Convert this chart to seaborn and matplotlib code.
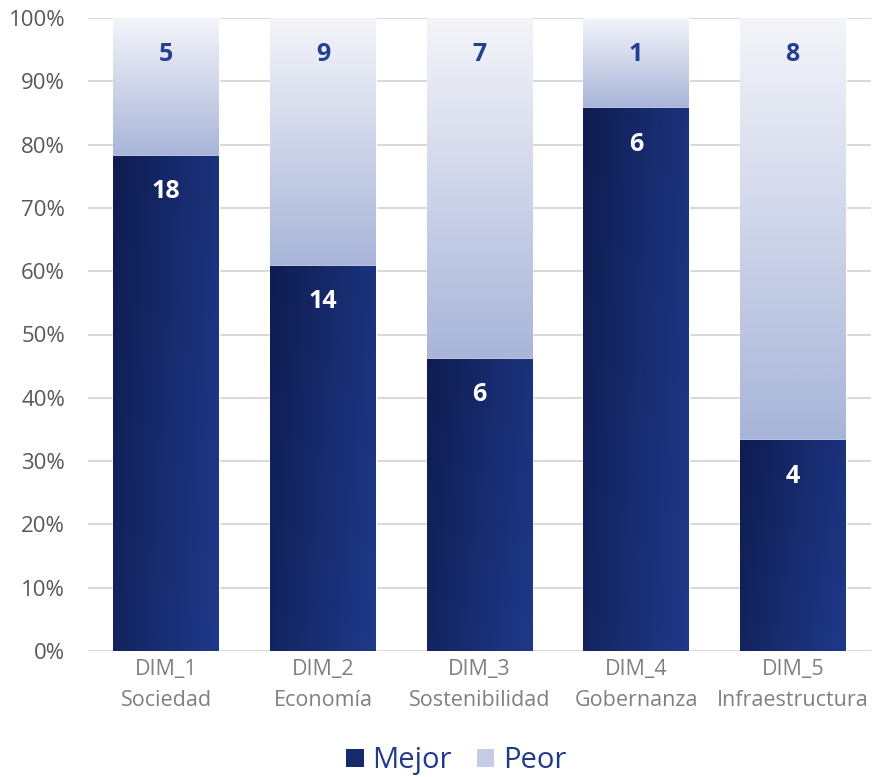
import numpy as np
import pandas as pd
import matplotlib
matplotlib.use("Agg")
import matplotlib.pyplot as plt
import seaborn as sns
from matplotlib.colors import LinearSegmentedColormap
from matplotlib.patches import Patch
from matplotlib.ticker import PercentFormatter

categories = ["DIM_1\nSociedad", "DIM_2\nEconomía", "DIM_3\nSostenibilidad",
              "DIM_4\nGobernanza", "DIM_5\nInfraestructura"]
mejor = [18, 14, 6, 6, 4]
peor = [5, 9, 7, 1, 8]
series_names = ["Mejor", "Peor"]

sns.set_theme(style="white")
plt.rcParams["font.family"] = ["Open Sans", "DejaVu Sans"]

total = np.array(mejor) + np.array(peor)
df = pd.DataFrame({
    "cat": categories,
    "mejor_pct": np.array(mejor) / total,
    "full": np.ones(len(categories)),
})

fig = plt.figure(figsize=(8.74, 7.77), dpi=100)
ax = fig.add_axes([88 / 874, 1 - 651 / 777, 783 / 874, (651 - 18) / 777])

W = 0.675
sns.barplot(data=df, x="cat", y="full", color="#c8d0e8", width=W, ax=ax,
            zorder=2, saturation=1)
n = len(categories)
sns.barplot(data=df, x="cat", y="mejor_pct", color="#1a2f73", width=W, ax=ax,
            zorder=3, saturation=1)

peor_cmap = LinearSegmentedColormap.from_list("p", ["#a8b5d9", "#f4f5fa"])
mejor_cmap = LinearSegmentedColormap.from_list("m", ["#0f1c50", "#1f3a8b"])

patches = ax.patches
peor_patches = patches[:n]
mejor_patches = patches[n:2 * n]

for i, p in enumerate(peor_patches):
    x0, w = p.get_x(), p.get_width()
    ytop = 1.0
    ybot = df["mejor_pct"].iloc[i]
    grad = np.linspace(0, 1, 256).reshape(-1, 1)
    im = ax.imshow(grad, cmap=peor_cmap, extent=[x0, x0 + w, ybot, ytop],
                   origin="lower", aspect="auto", zorder=2.5, interpolation="bicubic")
    im.set_clip_path(p)

for i, p in enumerate(mejor_patches):
    x0, w, h = p.get_x(), p.get_width(), p.get_height()
    xx, yy = np.meshgrid(np.linspace(0, 1, 128), np.linspace(0, 1, 256))
    grad = np.clip(0.75 * xx + 0.25 * yy, 0, 1)
    im = ax.imshow(grad, cmap=mejor_cmap, extent=[x0, x0 + w, 0, h],
                   origin="upper", aspect="auto", zorder=3.5, interpolation="bicubic")
    im.set_clip_path(p)

for i, p in enumerate(mejor_patches):
    cx = p.get_x() + p.get_width() / 2
    ax.text(cx, df["mejor_pct"].iloc[i] - 0.057, str(mejor[i]), ha="center",
            va="center", color="white", fontsize=18, fontweight="bold", zorder=5)
    ax.text(cx, 1.0 - 0.057, str(peor[i]), ha="center", va="center",
            color="#243f8f", fontsize=18, fontweight="bold", zorder=5)

ax.set_xlim(-0.5, n - 0.5)
ax.set_ylim(0, 1)
ax.set_yticks(np.linspace(0, 1, 11))
ax.yaxis.set_major_formatter(PercentFormatter(1.0, decimals=0))
ax.yaxis.grid(True, color="#d9d9d9", linewidth=1.5, zorder=0)
ax.set_axisbelow(True)
for s in ax.spines.values():
    s.set_visible(False)
ax.set_xlabel("")
ax.set_ylabel("")
ax.tick_params(axis="y", labelsize=16, labelcolor="#595959", length=0, pad=16.5)
ax.tick_params(axis="x", labelsize=15.5, labelcolor="#808080", length=0, pad=6)
for t in ax.get_xticklabels():
    t.set_linespacing(1.6)

handles = [Patch(facecolor="#16296a", edgecolor="none"),
           Patch(facecolor="#c5cde6", edgecolor="none")]
leg = fig.legend(handles, series_names, loc="center", bbox_to_anchor=(0.522, 0.021),
                 ncol=2, frameon=False, fontsize=21, handlelength=0.6,
                 handleheight=0.6, handletextpad=0.3, columnspacing=0.85)
for t in leg.get_texts():
    t.set_color("#1f3a8a")

fig.savefig("out.png", dpi=100, facecolor="white")
